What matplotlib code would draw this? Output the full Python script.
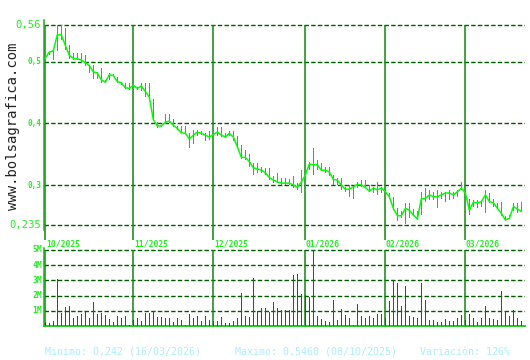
import matplotlib
matplotlib.use("Agg")
import matplotlib.pyplot as plt
import numpy as np

# ---------------- data ----------------
close = [0.506, 0.516, 0.518, 0.544, 0.544, 0.527, 0.511, 0.506, 0.505, 0.503,
         0.499, 0.494, 0.484, 0.482, 0.471, 0.467, 0.479, 0.478, 0.468, 0.466,
         0.458, 0.457, 0.462, 0.457, 0.461, 0.452, 0.443, 0.406, 0.396, 0.396,
         0.402, 0.404, 0.397, 0.392, 0.385, 0.384, 0.375, 0.381, 0.386, 0.384,
         0.381, 0.378, 0.382, 0.386, 0.381, 0.378, 0.384, 0.378, 0.362, 0.345,
         0.345, 0.338, 0.328, 0.326, 0.324, 0.320, 0.312, 0.308, 0.305, 0.303,
         0.303, 0.303, 0.300, 0.296, 0.305, 0.316, 0.334, 0.333, 0.333, 0.324,
         0.324, 0.321, 0.309, 0.308, 0.300, 0.293, 0.293, 0.297, 0.301, 0.300,
         0.296, 0.290, 0.295, 0.292, 0.295, 0.289, 0.281, 0.262, 0.250, 0.250,
         0.262, 0.259, 0.251, 0.245, 0.278, 0.278, 0.284, 0.281, 0.281, 0.284,
         0.287, 0.287, 0.284, 0.289, 0.295, 0.287, 0.259, 0.272, 0.271, 0.273,
         0.284, 0.273, 0.271, 0.262, 0.254, 0.243, 0.246, 0.265, 0.261, 0.257]

high = [0.514, 0.517, 0.520, 0.560, 0.560, 0.555, 0.527, 0.515, 0.515, 0.514,
        0.511, 0.495, 0.495, 0.483, 0.490, 0.470, 0.482, 0.480, 0.475, 0.468,
        0.466, 0.466, 0.466, 0.460, 0.466, 0.466, 0.466, 0.440, 0.403, 0.398,
        0.416, 0.416, 0.408, 0.396, 0.396, 0.396, 0.384, 0.389, 0.390, 0.387,
        0.385, 0.387, 0.387, 0.394, 0.394, 0.384, 0.387, 0.387, 0.379, 0.365,
        0.357, 0.351, 0.335, 0.335, 0.330, 0.327, 0.327, 0.314, 0.320, 0.311,
        0.311, 0.309, 0.314, 0.303, 0.324, 0.324, 0.338, 0.360, 0.341, 0.335,
        0.330, 0.330, 0.316, 0.311, 0.311, 0.297, 0.300, 0.297, 0.305, 0.308,
        0.308, 0.300, 0.297, 0.305, 0.297, 0.295, 0.287, 0.281, 0.262, 0.257,
        0.270, 0.270, 0.261, 0.257, 0.289, 0.295, 0.292, 0.289, 0.292, 0.289,
        0.289, 0.292, 0.289, 0.292, 0.305, 0.292, 0.278, 0.276, 0.276, 0.273,
        0.292, 0.287, 0.278, 0.270, 0.273, 0.249, 0.251, 0.270, 0.270, 0.273]

low = [0.503, 0.512, 0.503, 0.517, 0.536, 0.519, 0.505, 0.503, 0.503, 0.498,
       0.494, 0.482, 0.472, 0.472, 0.465, 0.465, 0.470, 0.476, 0.465, 0.463,
       0.456, 0.455, 0.458, 0.455, 0.452, 0.443, 0.440, 0.405, 0.392, 0.394,
       0.399, 0.401, 0.395, 0.389, 0.384, 0.384, 0.360, 0.367, 0.379, 0.381,
       0.371, 0.373, 0.381, 0.379, 0.378, 0.376, 0.379, 0.371, 0.360, 0.343,
       0.341, 0.330, 0.316, 0.319, 0.319, 0.316, 0.308, 0.304, 0.303, 0.300,
       0.300, 0.300, 0.295, 0.292, 0.287, 0.295, 0.324, 0.316, 0.324, 0.322,
       0.319, 0.314, 0.300, 0.300, 0.292, 0.289, 0.281, 0.278, 0.295, 0.297,
       0.295, 0.289, 0.287, 0.284, 0.287, 0.284, 0.278, 0.260, 0.241, 0.246,
       0.237, 0.246, 0.251, 0.243, 0.251, 0.273, 0.276, 0.276, 0.262, 0.278,
       0.273, 0.276, 0.278, 0.281, 0.292, 0.281, 0.251, 0.265, 0.262, 0.265,
       0.254, 0.270, 0.265, 0.262, 0.249, 0.243, 0.246, 0.257, 0.254, 0.257]

volume_m = [0.26, 0.18, 0.33, 3.1, 0.88, 1.25, 1.32, 0.53, 0.66, 0.79,
            0.92, 0.53, 1.58, 0.79, 0.86, 0.72, 0.46, 0.26, 0.66, 0.53,
            0.66, 0.07, 0.4, 0.53, 0.33, 0.86, 0.86, 0.99, 0.59, 0.59,
            0.53, 0.53, 0.26, 0.53, 0.39, 0.07, 0.79, 0.53, 0.66, 0.33,
            0.66, 0.39, 0.33, 0.33, 0.59, 0.2, 0.2, 0.33, 0.53, 2.17,
            0.66, 0.59, 3.16, 0.99, 1.18, 1.18, 0.92, 1.58, 1.18, 1.05,
            1.05, 1.05, 3.36, 3.42, 2.1, 2.04, 1.91, 5.0, 0.66, 0.46,
            0.33, 0.26, 1.71, 0.39, 1.12, 0.72, 0.53, 0.07, 1.45, 0.66,
            0.53, 0.66, 0.53, 0.79, 0.79, 0.5, 1.64, 2.96, 2.83, 1.32,
            2.63, 0.66, 0.59, 0.53, 2.83, 1.71, 0.39, 0.39, 0.26, 0.26,
            0.46, 0.33, 0.33, 0.53, 0.72, 0.39, 0.79, 0.53, 0.26, 0.53,
            1.32, 0.53, 0.46, 0.39, 2.3, 0.99, 0.66, 1.05, 0.53, 0.33]

month_labels = ["10/2025", "11/2025", "12/2025", "01/2026", "02/2026", "03/2026"]
month_start_idx = [0, 22, 42, 65, 85, 105]

price_ticks = [0.56, 0.5, 0.4, 0.3, 0.235]
price_tick_labels = ["0,56", "0,5", "0,4", "0,3", "0,235"]
vol_ticks = [1, 2, 3, 4, 5]
vol_tick_labels = ["1M", "2M", "3M", "4M", "5M"]

footer_min = "Minimo: 0,242 (16/03/2026)"
footer_max = "Maximo: 0,5460 (08/10/2025)"
footer_var = "Variación: 126%"
watermark = "www.bolsagrafica.com"

# ---------------- styling ----------------
W, H = 530, 360
GREEN_TXT = "#22ee22"
GRID = "#005a00"
MONTH = "#118811"
SPINE = "#22aa22"
LINE = "#00ff00"
HL = "#1ea5b5"
BAR = "#ee0000"
FOOT = "#aaeeff"
MONO = "DejaVu Sans Mono"

fig = plt.figure(figsize=(W / 100, H / 100), dpi=100)
fig.patch.set_facecolor("white")

def rect(l, t, r, b):
    return [l / W, 1 - b / H, (r - l) / W, (b - t) / H]

x = np.arange(len(close))
xlim = (-0.325, 119.9)

# ---- price axes ----
ax = fig.add_axes(rect(44, 20, 525, 240))
ppx = 615.4  # pixels per price unit
ax.set_xlim(*xlim)
ax.set_ylim(0.56 - 215 / ppx, 0.56 + 5 / ppx)
for s in ["top", "right", "bottom"]:
    ax.spines[s].set_visible(False)
ax.spines["left"].set_color(SPINE)
ax.spines["left"].set_linewidth(1.1)
ax.spines["left"].set_bounds(0.56 - 205 / ppx, 0.56 + 5 / ppx)
ax.set_xticks([])
ax.set_yticks([])

for v in price_ticks:
    ax.axhline(v, color=GRID, lw=1.0, dashes=(3.2, 1.6), zorder=1)
ax.vlines(month_start_idx, ax.get_ylim()[0], 0.56, color=MONTH, lw=1.1, zorder=2)
hl_height = np.array(high) - np.array(low)
ax.bar(x, hl_height, bottom=low, width=0.36, color=HL, linewidth=0,
       antialiased=False, zorder=3)
ax.plot(x, close, color=LINE, lw=1.1, zorder=4)

ytr = ax.get_yaxis_transform()
for v, lab in zip(price_ticks, price_tick_labels):
    big = lab in ("0,56", "0,235")
    ax.text(-0.006, v, lab, transform=ytr, ha="right", va="center",
            color=GREEN_TXT, family=MONO,
            fontsize=7.6 if big else 5.6,
            fontweight="normal" if big else "bold")

# ---- volume axes ----
vx = fig.add_axes(rect(44, 248, 525, 326))
vpx = 15.2
vx.set_xlim(*xlim)
vx.set_ylim(0, 5 + 2 / vpx)
for s in ["top", "right"]:
    vx.spines[s].set_visible(False)
vx.spines["left"].set_color(SPINE)
vx.spines["left"].set_linewidth(1.1)
vx.spines["bottom"].set_color("#22cc22")
vx.spines["bottom"].set_linewidth(1.4)
vx.set_xticks([])
vx.set_yticks([])
for v in vol_ticks:
    vx.axhline(v, color=GRID, lw=1.0, dashes=(3.2, 1.6), zorder=1)
vx.vlines(month_start_idx, 0, 5, color=MONTH, lw=1.1, zorder=2)
vx.bar(x, volume_m, width=0.28, color=BAR, linewidth=0, antialiased=False,
       zorder=3)

vtr = vx.get_yaxis_transform()
for v, lab in zip(vol_ticks, vol_tick_labels):
    vx.text(-0.004, v, lab, transform=vtr, ha="right", va="center",
            color=GREEN_TXT, family=MONO, fontsize=5.8, fontweight="bold")

xtr = vx.get_xaxis_transform()
for idx, lab in zip(month_start_idx, month_labels):
    vx.text(idx + 0.15, 1.055, lab, transform=xtr, ha="left", va="center",
            color=GREEN_TXT, family=MONO, fontsize=5.8, fontweight="bold",
            clip_on=False)

# ---- footer & watermark ----
fig.text(45 / W, 1 - 352 / H, footer_min, color=FOOT, family=MONO,
         fontsize=7.2, ha="left", va="center")
fig.text(235 / W, 1 - 352 / H, footer_max, color=FOOT, family=MONO,
         fontsize=7.2, ha="left", va="center")
fig.text(420 / W, 1 - 352 / H, footer_var, color=FOOT, family=MONO,
         fontsize=7.2, ha="left", va="center")
fig.text(13 / W, 1 - 126 / H, watermark, color="#222222", family=MONO,
         fontsize=10, rotation=90, ha="center", va="center")

fig.savefig("out.png", dpi=100, facecolor="white")
